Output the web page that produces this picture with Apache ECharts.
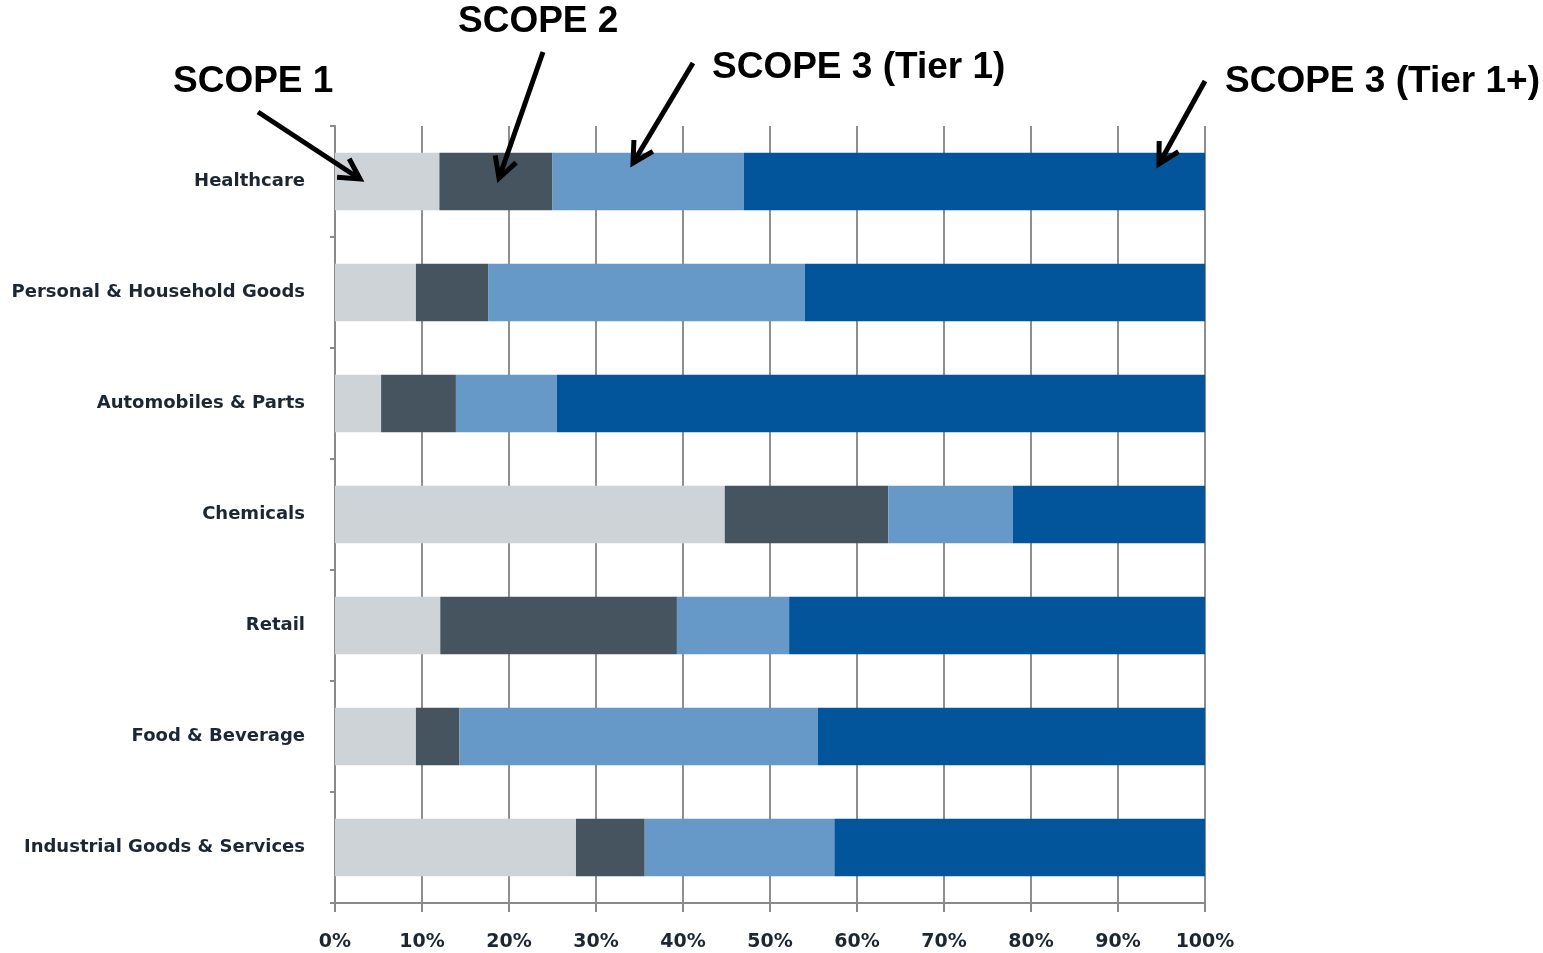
<!DOCTYPE html>
<html>
<head>
<meta charset="utf-8">
<script src="https://cdn.jsdelivr.net/npm/echarts@6/dist/echarts.min.js"></script>
<style>
html,body{margin:0;padding:0;background:#fff;}
#chart{width:1543px;height:953px;}
</style>
</head>
<body>
<div id="chart"></div>
<script>
var categories = ['Healthcare','Personal & Household Goods','Automobiles & Parts','Chemicals','Retail','Food & Beverage','Industrial Goods & Services'];
var scope1 = [12.0, 9.3, 5.3, 44.8, 12.1, 9.3, 27.7];
var scope2 = [13.0, 8.3, 8.6, 18.8, 27.2, 5.0, 7.9];
var scope3Tier1 = [22.0, 36.4, 11.6, 14.3, 12.9, 41.2, 21.8];
var scope3Tier1Plus = [53.0, 46.0, 74.5, 22.1, 47.8, 44.5, 42.6];
var xTicks = [0,10,20,30,40,50,60,70,80,90,100];

var seriesNames = ['SCOPE 1','SCOPE 2','SCOPE 3 (Tier 1)','SCOPE 3 (Tier 1+)'];
var seriesData = [scope1, scope2, scope3Tier1, scope3Tier1Plus];
var colors = ['#ced3d8','#46545f','#6698c8','#02559a'];

var chart = echarts.init(document.getElementById('chart'));

function arrow(x1,y1,x2,y2){
  var ang = Math.atan2(y2-y1, x2-x1);
  var L = 23, a = 0.5;
  var p1 = [x2 - L*Math.cos(ang - a), y2 - L*Math.sin(ang - a)];
  var p2 = [x2 - L*Math.cos(ang + a), y2 - L*Math.sin(ang + a)];
  return [
    {type:'line', z:100, shape:{x1:x1,y1:y1,x2:x2,y2:y2}, style:{stroke:'#000', lineWidth:5}},
    {type:'polyline', z:100, shape:{points:[p1,[x2,y2],p2]}, style:{stroke:'#000', lineWidth:5, fill:null, lineJoin:'miter'}}
  ];
}

var labelStyle = {fontFamily:'Liberation Sans, Arial, sans-serif', fontWeight:'bold', fontSize:37, fill:'#000'};
var graphics = [
  {type:'text', z:100, left:173, top:63, style:Object.assign({text:'SCOPE 1'}, labelStyle)},
  {type:'text', z:100, left:458, top:3, style:Object.assign({text:'SCOPE 2'}, labelStyle)},
  {type:'text', z:100, left:712, top:49, style:Object.assign({text:'SCOPE 3 (Tier 1)'}, labelStyle)},
  {type:'text', z:100, left:1225, top:63, style:Object.assign({text:'SCOPE 3 (Tier 1+)'}, labelStyle)}
].concat(arrow(258,112,360,179))
 .concat(arrow(543,52,499,178))
 .concat(arrow(693,63,633,163))
 .concat(arrow(1205,81,1159,164));

chart.setOption({
  animation:false,
  grid:{left:335, right:338, top:126, bottom:50, containLabel:false},
  xAxis:{
    type:'value', min:0, max:100, interval:10,
    axisLine:{show:true, lineStyle:{color:'#8a8a8a', width:2}},
    axisTick:{show:true, length:9, lineStyle:{color:'#8a8a8a', width:2}},
    axisLabel:{formatter:'{value}%', margin:30, color:'#1c2733', fontFamily:'DejaVu Sans', fontWeight:'bold', fontSize:19},
    splitLine:{show:true, lineStyle:{color:'#8f8f8f', width:2}}
  },
  yAxis:{
    type:'category', data:categories, inverse:true,
    axisLine:{show:true, lineStyle:{color:'#8a8a8a', width:2}},
    axisTick:{show:true, length:5, lineStyle:{color:'#8a8a8a', width:2}},
    axisLabel:{margin:30, color:'#1c2733', fontFamily:'DejaVu Sans', fontWeight:'bold', fontSize:18}
  },
  series: seriesNames.map(function(n,i){
    return {name:n, type:'bar', stack:'total', data:seriesData[i], barWidth:'52%',
      itemStyle:{color:colors[i]}};
  }),
  graphic:graphics
});
</script>
</body>
</html>
